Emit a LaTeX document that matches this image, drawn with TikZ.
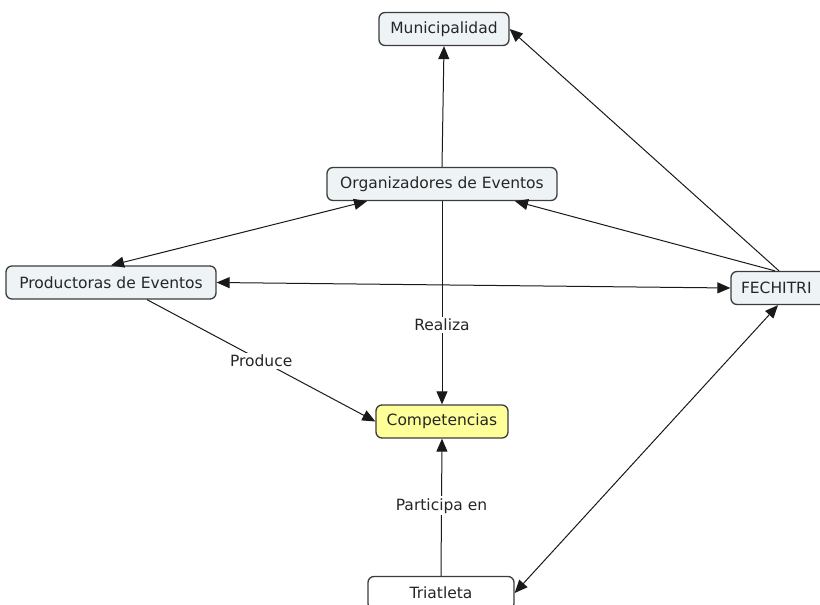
\documentclass[tikz,border=0pt]{standalone}
\usepackage{fontspec}
\setmainfont{DejaVu Sans}
\usetikzlibrary{arrows.meta}
\definecolor{boxfill}{HTML}{EEF4F6}
\definecolor{boxline}{HTML}{3C3C3C}
\definecolor{hilite}{HTML}{FFFF99}
\begin{document}
\begin{tikzpicture}[x=1pt,y=-1pt,
  concept/.style={draw=boxline,line width=1.3pt,rounded corners=6pt,fill=boxfill,
    minimum height=33pt,inner sep=0pt,text=black!85,
    font=\fontsize{15.5}{18}\selectfont},
  link/.style={draw=black!90,line width=1pt,-{Triangle[length=13pt,width=11pt]}},
  dlink/.style={link,{Triangle[length=13pt,width=11pt]}-{Triangle[length=13pt,width=11pt]}},
  lbl/.style={fill=white,inner sep=2pt,text=black!85,font=\fontsize{15.5}{18}\selectfont}]
\useasboundingbox (0,0) rectangle (820,605);
\clip (0,0) rectangle (820,605);

\node[concept,minimum width=130pt] (M) at (444,29) {Municipalidad};
\node[concept,minimum width=230pt] (O) at (442,184) {Organizadores de Eventos};
\node[concept,minimum width=210pt] (P) at (111,282.5) {Productoras de Eventos};
\node[concept,minimum width=100pt,text width=80pt,align=left] (F) at (781,288) {FECHITRI};
\node[concept,minimum width=132pt,fill=hilite] (C) at (442,421.5) {Competencias};
\node[concept,minimum width=146pt,fill=white] (T) at (441,593) {Triatleta};

% links into Municipalidad
\draw[link] (O.north) -- (M.south);
\draw[link] ([xshift=-2pt]F.north) -- (M.east);
% FECHITRI to Organizadores
\draw[link] ([xshift=-6pt]F.north) -- ([xshift=73pt]O.south);
% two-way links
\draw[dlink] ([xshift=-75pt]O.south) -- (P.north);
\draw[dlink] (P.east) -- (F.west);
\draw[dlink] ([xshift=-3pt]F.south) -- (T.east);
% links into Competencias
\draw[link] (O.south) -- node[lbl,pos=0.61] (r) {Realiza} (C.north);
\draw[link] ([xshift=36pt]P.south) -- node[lbl,pos=0.5] (p) {Produce} (C.west);
\draw[link] (T.north) -- node[lbl,pos=0.51] (pa) {Participa en} (C.south);
\end{tikzpicture}
\end{document}
